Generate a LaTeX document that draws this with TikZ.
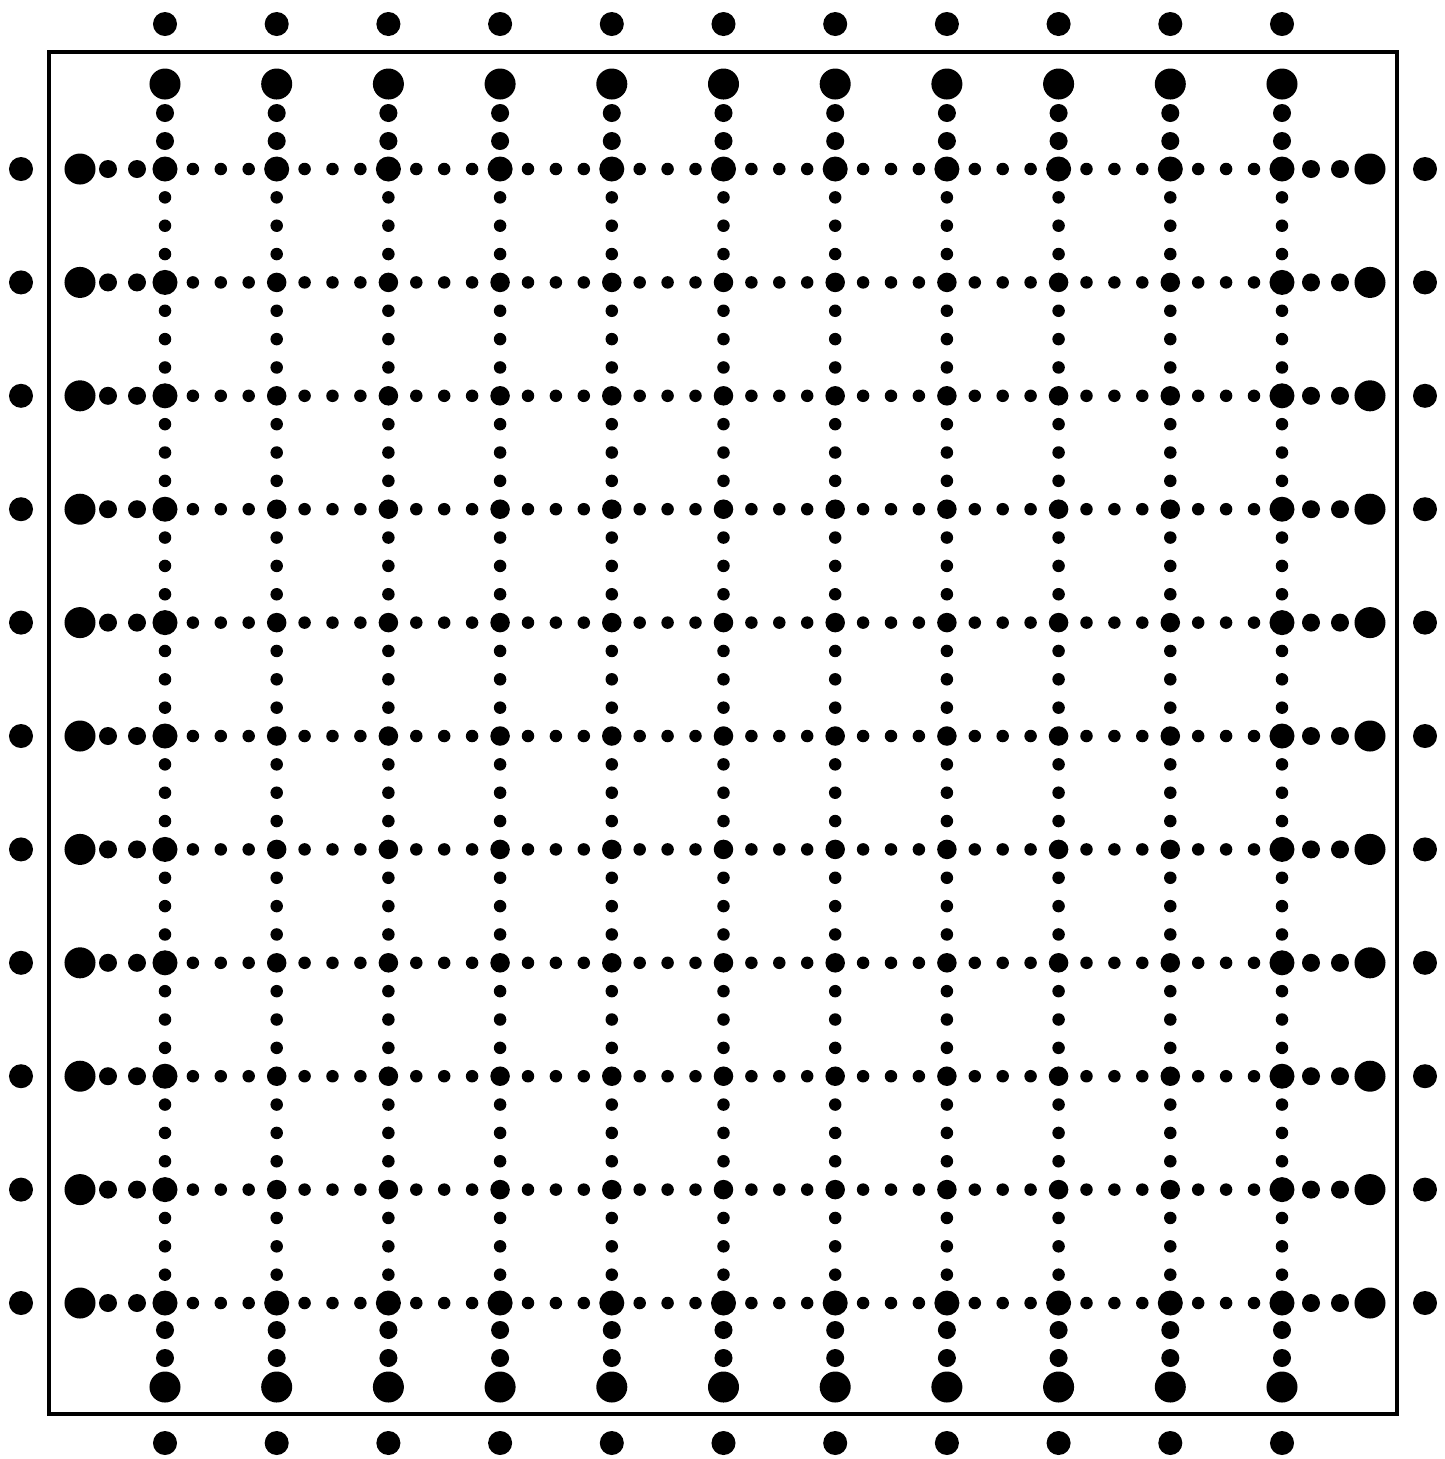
\documentclass[tikz,border=0pt]{standalone}
\usepackage{tikz}

\begin{document}
\begin{tikzpicture}[
    x=0.01cm, y=-0.01cm,
    cross/.style={circle, fill=black, inner sep=0pt, minimum size=#1},
    enddot/.style={circle, fill=black, inner sep=0pt, minimum size=3.1mm},
    middot/.style={circle, fill=black, inner sep=0pt, minimum size=1.8mm},
    tinydot/.style={circle, fill=black, inner sep=0pt, minimum size=1.25mm},
    outdot/.style={circle, fill=black, inner sep=0pt, minimum size=2.4mm},
    frame/.style={draw=black, line width=1.2pt}
]
\useasboundingbox (0,0) rectangle (1445,1459);
\draw[frame] (49,52) rectangle (1397,1414);

% grid crossings, larger ones on the outer ring
\foreach \i in {1,...,11} {
  \foreach \j in {1,...,11} {
    \pgfmathsetmacro{\cx}{165+111.7*(\i-1)}
    \pgfmathsetmacro{\cy}{169+113.4*(\j-1)}
    \pgfmathtruncatemacro{\rim}{(\i==1)||(\i==11)||(\j==1)||(\j==11)}
    \pgfmathsetmacro{\csize}{ifthenelse(\rim==1,2.5,1.95)}
    \node[cross=\csize mm] (c-\i-\j) at (\cx,\cy) {};
  }
}

% small dots along rows and columns
\foreach \i in {1,...,10} {
  \foreach \j in {1,...,11} {
    \foreach \k in {1,2,3} {
      \pgfmathsetmacro{\hx}{165+111.7*(\i-1)+27.9*\k}
      \pgfmathsetmacro{\hy}{169+113.4*(\j-1)}
      \node[tinydot] (h-\i-\j-\k) at (\hx,\hy) {};
      \pgfmathsetmacro{\vx}{165+111.7*(\j-1)}
      \pgfmathsetmacro{\vy}{169+113.4*(\i-1)+28.35*\k}
      \node[tinydot] (v-\j-\i-\k) at (\vx,\vy) {};
    }
  }
}

% end dots inside the frame
\foreach \i in {1,...,11} {
  \pgfmathsetmacro{\cx}{165+111.7*(\i-1)}
  \pgfmathsetmacro{\cy}{169+113.4*(\i-1)}
  \node[enddot] (top-\i) at (\cx,84) {};
  \node[middot] at (\cx,113) {};
  \node[middot] at (\cx,141) {};
  \node[enddot] (bot-\i) at (\cx,1387) {};
  \node[middot] at (\cx,1330) {};
  \node[middot] at (\cx,1358) {};
  \node[enddot] (lft-\i) at (80,\cy) {};
  \node[middot] at (108,\cy) {};
  \node[middot] at (137,\cy) {};
  \node[enddot] (rgt-\i) at (1370,\cy) {};
  \node[middot] at (1311,\cy) {};
  \node[middot] at (1340,\cy) {};
  % dots outside the frame
  \node[outdot] (otop-\i) at (\cx,24) {};
  \node[outdot] (obot-\i) at (\cx,1443) {};
  \node[outdot] (olft-\i) at (21,\cy) {};
  \node[outdot] (orgt-\i) at (1425,\cy) {};
}
\end{tikzpicture}
\end{document}
